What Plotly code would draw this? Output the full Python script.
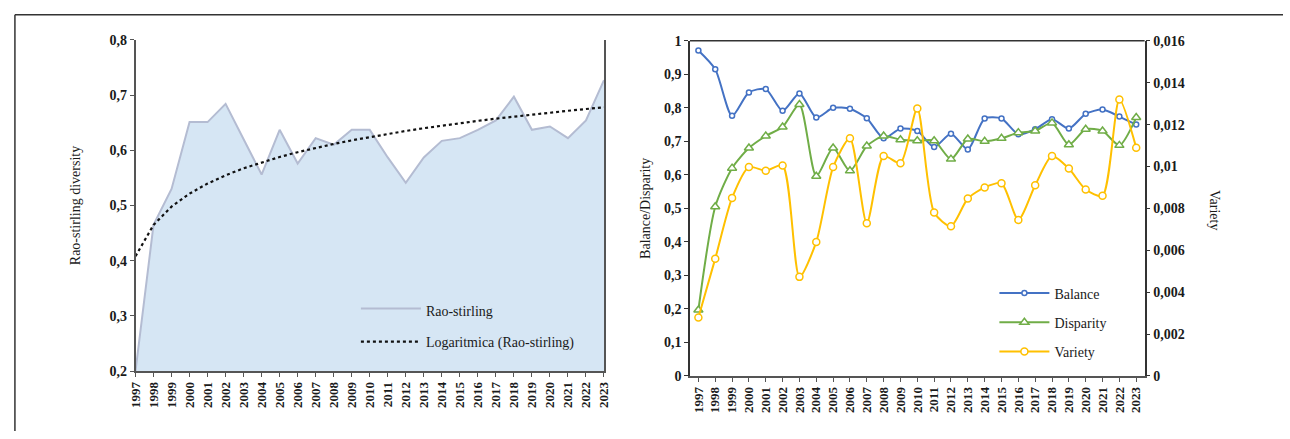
import numpy as np
import plotly.graph_objects as go

years = list(range(1997, 2024))
rao_stirling = [0.20, 0.465, 0.53, 0.651, 0.651, 0.684, 0.62, 0.556, 0.637, 0.576,
                0.622, 0.610, 0.637, 0.637, 0.587, 0.541, 0.587, 0.617, 0.622, 0.637,
                0.654, 0.697, 0.637, 0.643, 0.622, 0.654, 0.727]
balance = [0.971, 0.915, 0.776, 0.846, 0.856, 0.791, 0.843, 0.771, 0.800, 0.797,
           0.769, 0.709, 0.738, 0.731, 0.683, 0.723, 0.676, 0.768, 0.768, 0.721,
           0.736, 0.766, 0.738, 0.782, 0.795, 0.774, 0.750]
disparity = [0.197, 0.505, 0.620, 0.680, 0.716, 0.743, 0.810, 0.596, 0.680, 0.612,
             0.686, 0.716, 0.705, 0.702, 0.702, 0.647, 0.707, 0.700, 0.709, 0.726,
             0.731, 0.755, 0.690, 0.736, 0.731, 0.688, 0.771]
variety = [0.00279, 0.0056, 0.0085, 0.00997, 0.0098, 0.01005, 0.00473, 0.0064, 0.00997, 0.01135,
           0.00729, 0.0105, 0.01016, 0.01277, 0.0078, 0.00715, 0.00847, 0.0090, 0.0092, 0.00745,
           0.0091, 0.0105, 0.0099, 0.0089, 0.0086, 0.0132, 0.0109]

# logarithmic trendline fitted to the Rao-stirling series
idx = np.arange(1, len(years) + 1)
a, b = np.polyfit(np.log(idx), np.array(rao_stirling), 1)
trend = a * np.log(idx) + b

W, H = 1290, 439
FONT = "'Liberation Serif', 'Times New Roman', Times, serif"
TXT = "#1a1a1a"

def px(x):
    return x / W

def py(y):
    return 1 - y / H

fig = go.Figure()

# Left chart
fig.add_trace(go.Scatter(
    x=years, y=rao_stirling, name="Rao-stirling", mode="lines",
    fill="tozeroy", fillcolor="rgb(214,230,244)",
    line=dict(color="rgb(180,188,210)", width=2),
    xaxis="x", yaxis="y", legend="legend", legendgroup="a"))
fig.add_trace(go.Scatter(
    x=years, y=trend, name="Logaritmica (Rao-stirling)", mode="lines",
    line=dict(color="#111111", width=2.2, dash="dot"),
    xaxis="x", yaxis="y", legend="legend", legendgroup="b"))

# Right chart
fig.add_trace(go.Scatter(
    x=years, y=balance, name="Balance", mode="lines+markers",
    line=dict(color="#4472C4", width=2, shape="spline", smoothing=0.7),
    marker=dict(symbol="circle", size=5, color="white", line=dict(color="#4472C4", width=1.5)),
    xaxis="x2", yaxis="y2", legend="legend2", legendgroup="c"))
fig.add_trace(go.Scatter(
    x=years, y=disparity, name="Disparity", mode="lines+markers",
    line=dict(color="#70AD47", width=2, shape="spline", smoothing=0.7),
    marker=dict(symbol="triangle-up", size=8, color="white", line=dict(color="#70AD47", width=1.5)),
    xaxis="x2", yaxis="y2", legend="legend2", legendgroup="d"))
fig.add_trace(go.Scatter(
    x=years, y=variety, name="Variety", mode="lines+markers",
    line=dict(color="#FFC000", width=2, shape="spline", smoothing=0.7),
    marker=dict(symbol="circle", size=7, color="white", line=dict(color="#FFC000", width=1.5)),
    xaxis="x2", yaxis="y3", legend="legend2", legendgroup="e"))

ytickfont = dict(family=FONT, size=14, color=TXT, weight="bold")
xtickfont = dict(family=FONT, size=13, color=TXT, weight="bold")
xcommon = dict(tickmode="array", tickvals=years, ticktext=[str(y) for y in years],
               tickangle=-90, ticks="outside", ticklen=4, tickcolor="#555",
               showgrid=False, zeroline=False, showline=True, linecolor="#555",
               linewidth=1.5, tickfont=xtickfont)

fig.update_layout(
    width=W, height=H,
    margin=dict(l=0, r=0, t=0, b=0),
    paper_bgcolor="white", plot_bgcolor="rgba(0,0,0,0)",
    separators=",.",
    font=dict(family=FONT),
    showlegend=True,
    xaxis=dict(domain=[px(129), px(603)], range=[1997, 2023], anchor="y", **xcommon),
    yaxis=dict(domain=[py(377), py(34)], range=[0.2, 0.8], dtick=0.1, anchor="x",
               ticks="outside", ticklen=4, tickcolor="#555", showline=True,
               linecolor="#555", linewidth=1.5, mirror=True, showgrid=False,
               zeroline=False, tickfont=ytickfont,
               title=dict(text="Rao-stirling diversity", font=dict(family=FONT, size=14, color=TXT),
                          standoff=26)),
    xaxis2=dict(domain=[px(690), px(1150)], range=[1996.5, 2023.5], anchor="y2", **xcommon),
    yaxis2=dict(domain=[py(382), py(35)], range=[0, 1], dtick=0.1, anchor="x2",
                ticks="outside", ticklen=4, tickcolor="#333", showline=True,
                linecolor="#333", linewidth=1.5, mirror=False, showgrid=False,
                zeroline=False, tickfont=ytickfont,
                title=dict(text="Balance/Disparity", font=dict(family=FONT, size=14, color=TXT),
                           standoff=10)),
    yaxis3=dict(range=[0, 0.016], dtick=0.002, overlaying="y2", side="right", anchor="x2",
                ticks="outside", ticklen=4, tickcolor="#333", showline=True,
                linecolor="#333", linewidth=1.5, showgrid=False, zeroline=False,
                tickfont=ytickfont),
    legend=dict(x=px(352), y=py(298), xanchor="left", yanchor="top",
                bgcolor="rgba(0,0,0,0)", font=dict(family=FONT, size=14, color=TXT),
                itemwidth=60, tracegroupgap=10),
    legend2=dict(x=px(998), y=py(280), xanchor="left", yanchor="top",
                 bgcolor="rgba(0,0,0,0)", font=dict(family=FONT, size=14, color=TXT),
                 itemwidth=50, tracegroupgap=8),
    annotations=[dict(text="Variety", x=px(1220), y=py(210), xref="paper", yref="paper",
                      xanchor="center", yanchor="middle",
                      textangle=90, showarrow=False,
                      font=dict(family=FONT, size=14, color=TXT))],
    shapes=[
        dict(type="line", xref="paper", yref="paper", x0=px(7), x1=1, y0=py(8), y1=py(8),
             line=dict(color="#333", width=1.5)),
        dict(type="line", xref="paper", yref="paper", x0=px(7), x1=px(7), y0=py(8), y1=0,
             line=dict(color="#333", width=1.5)),
        dict(type="line", xref="paper", yref="paper", x0=px(690), x1=px(1150), y0=py(35), y1=py(35),
             line=dict(color="#333", width=1.5)),
    ],
)

fig.write_html("out.html")
